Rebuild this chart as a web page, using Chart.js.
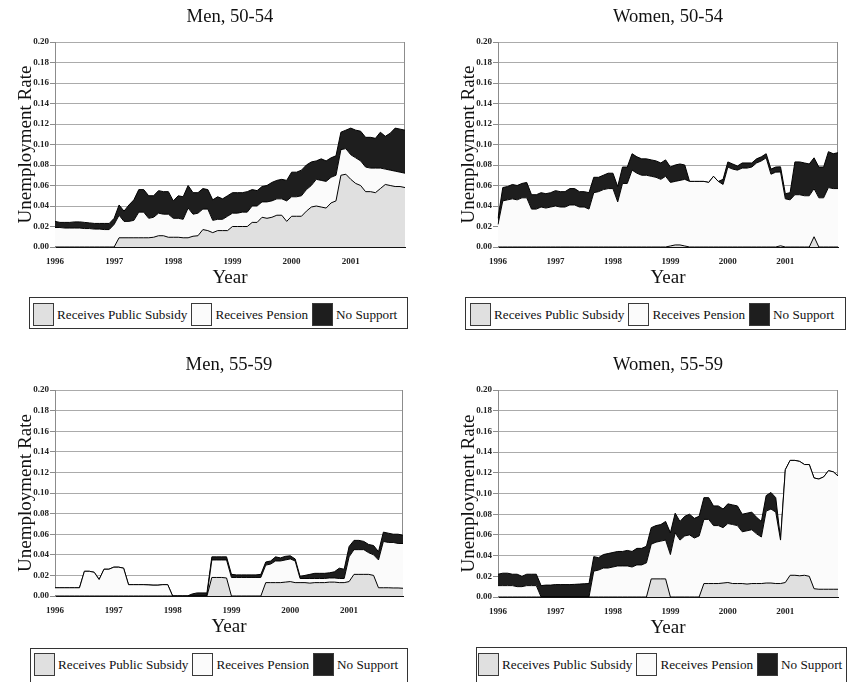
<!DOCTYPE html>
<html>
<head>
<meta charset="utf-8">
<title>Unemployment rate by source of support</title>
<script src="https://cdn.jsdelivr.net/npm/chart.js@4.4.1/dist/chart.umd.min.js"></script>
<style>
  html, body { margin: 0; padding: 0; background: #fff; }
  body { width: 847px; height: 682px; position: relative; overflow: hidden;
         font-family: "Liberation Serif", "Times New Roman", serif; }
  .panel { position: absolute; }
  .panel canvas { display: block; }
  .legend { position: absolute; box-sizing: border-box; border: 1px solid #333;
            display: flex; align-items: flex-start; color: #111;
            font-family: "Liberation Serif", "Times New Roman", serif; font-size: 13.2px;
            white-space: nowrap; background: #fff; overflow: hidden; }
  .legend .item { display: flex; align-items: center; margin-right: 4px; }
  .legend .sw { width: 21px; height: 23px; box-sizing: border-box; border: 1.5px solid #3a3a3a;
                margin-right: 3px; flex: none; }
</style>
</head>
<body>
<script>
// ---- categories and tick labels ----
const years = ['1996', '1997', '1998', '1999', '2000', '2001'];
const monthNums = ['01', '02', '03', '04', '05', '06', '07', '08', '09', '10', '11', '12'];
const months = years.flatMap(y => monthNums.map(m => y + '-' + m));

const seriesNames = ['Receives Public Subsidy', 'Receives Pension', 'No Support'];
const fillColours = ['#e0e0e0', '#fbfbfb', '#1e1e1e'];

// ---- Men, 50-54 (monthly unemployment rate, by source of support) ----
const men5054Subsidy = [
  0, 0, 0, 0, 0, 0, 0, 0, 0, 0, 0, 0,
  0, .009, .009, .009, .009, .009, .009, .009, .0095, .011, .011, .0095,
  .0095, .0095, .009, .009, .0105, .011, .017, .016, .014, .016, .016, .016,
  .020, .020, .020, .020, .024, .024, .029, .028, .029, .031, .031, .025,
  .030, .030, .030, .035, .039, .040, .039, .038, .043, .045, .070, .071,
  .066, .062, .060, .054, .054, .053, .057, .061, .060, .059, .059, .058
];
const men5054Pension = [
  .019, .019, .0185, .0185, .0185, .0185, .018, .018, .0175, .0175, .017, .017,
  .022, .022, .016, .016, .017, .025, .025, .019, .0195, .022, .021, .0225,
  .0185, .0185, .018, .029, .0215, .022, .020, .021, .012, .011, .011, .014,
  .013, .013, .014, .014, .016, .016, .015, .016, .016, .016, .016, .020,
  .019, .019, .020, .021, .021, .026, .026, .026, .025, .025, .025, .025,
  .024, .025, .024, .024, .023, .024, .020, .015, .015, .015, .014, .014
];
const men5054None = [
  .006, .005, .0055, .0055, .006, .006, .006, .0055, .0055, .0055, .006, .006,
  .006, .010, .010, .016, .020, .022, .022, .022, .021, .022, .022, .022,
  .017, .022, .022, .022, .021, .020, .020, .019, .020, .022, .020, .020,
  .020, .020, .019, .020, .016, .015, .015, .016, .018, .018, .019, .020,
  .024, .024, .025, .024, .023, .018, .021, .020, .019, .019, .017, .018,
  .026, .027, .029, .029, .030, .029, .035, .032, .036, .042, .042, .042
];

// ---- Women, 50-54 ----
const women5054Subsidy = [
  0, 0, 0, 0, 0, 0, 0, 0, 0, 0, 0, 0,
  0, 0, 0, 0, 0, 0, 0, 0, 0, 0, 0, 0,
  0, 0, 0, 0, 0, 0, 0, 0, 0, 0, 0, 0,
  .001, .002, .002, .001, 0, 0, 0, 0, 0, 0, 0, 0,
  0, 0, 0, 0, 0, 0, 0, 0, 0, 0, 0, .0012,
  0, 0, 0, 0, 0, 0, .010, 0, 0, 0, 0, 0
];
const women5054Pension = [
  .022, .045, .046, .047, .046, .048, .048, .037, .037, .039, .038, .039,
  .040, .039, .039, .041, .041, .039, .039, .037, .053, .054, .056, .057,
  .057, .044, .062, .062, .075, .072, .070, .070, .069, .068, .066, .069,
  .062, .062, .063, .065, .064, .064, .064, .064, .063, .069, .064, .061,
  .078, .076, .075, .077, .077, .078, .082, .084, .087, .071, .073, .072,
  .047, .046, .051, .051, .050, .050, .047, .048, .048, .058, .057, .057
];
const women5054None = [
  .006, .013, .013, .014, .014, .014, .015, .014, .014, .014, .014, .014,
  .015, .015, .015, .016, .016, .015, .015, .016, .015, .014, .014, .015,
  .015, .015, .016, .016, .016, .016, .016, .016, .016, .016, .016, .016,
  .015, .016, .016, .014, 0, 0, 0, 0, 0, 0, 0, .005,
  .005, .005, .004, .005, .005, .004, .004, .004, .004, .005, .005, .005,
  .005, .007, .032, .032, .032, .031, .030, .030, .030, .035, .034, .035
];

// ---- Men, 55-59 ----
const men5559Subsidy = [
  0, 0, 0, 0, 0, 0, 0, 0, 0, 0, 0, 0,
  0, 0, 0, 0, 0, 0, 0, 0, 0, 0, 0, 0,
  0, 0, 0, 0, 0, 0, 0, 0, .018, .018, .018, .0175,
  0, 0, 0, 0, 0, 0, 0, .013, .013, .013, .013, .0135,
  .014, .013, .013, .013, .0125, .013, .013, .013, .0135, .0135, .013, .013,
  .014, .021, .021, .021, .021, .020, .008, .008, .008, .0078, .0078, .0075
];
const men5559Pension = [
  .008, .008, .008, .008, .008, .008, .024, .024, .023, .016, .026, .026,
  .028, .028, .027, .011, .011, .011, .011, .0108, .0105, .0105, .011, .011,
  0, 0, 0, 0, 0, 0, 0, 0, .017, .017, .017, .0175,
  .018, .018, .018, .018, .018, .018, .018, .017, .018, .021, .021, .0215,
  .022, .021, .004, .004, .0045, .004, .004, .004, .004, .004, .004, .004,
  .024, .024, .024, .024, .021, .020, .027, .045, .044, .0442, .0432, .0435
];
const men5559None = [
  0, 0, 0, 0, 0, 0, 0, 0, 0, 0, 0, 0,
  0, 0, 0, 0, 0, 0, 0, 0, 0, 0, 0, 0,
  0, 0, 0, 0, .002, .003, .003, .003, .003, .003, .003, .003,
  .003, .0025, .0025, .0025, .0025, .0025, .003, .003, .003, .004, .003, .0035,
  .003, .002, .002, .003, .004, .005, .005, .005, .005, .006, .010, .009,
  .010, .009, .009, .008, .008, .009, .008, .009, .009, .008, .009, .008
];

// ---- Women, 55-59 ----
const women5559Subsidy = [
  0, 0, 0, 0, 0, 0, 0, 0, 0, 0, 0, 0,
  0, 0, 0, 0, 0, 0, 0, 0, 0, 0, 0, 0,
  0, 0, 0, 0, 0, 0, 0, 0, .0175, .0175, .0175, .0175,
  0, 0, 0, 0, 0, 0, 0, .013, .013, .013, .013, .0135,
  .014, .013, .013, .013, .0125, .013, .013, .013, .0135, .0135, .013, .013,
  .014, .021, .021, .0205, .021, .020, .008, .0075, .0075, .0075, .0075, .0075
];
const women5559Pension = [
  .011, .011, .011, .011, .010, .010, .011, .011, .011, 0, 0, 0,
  0, 0, 0, 0, 0, 0, 0, 0, .025, .026, .028, .028,
  .029, .030, .030, .030, .029, .031, .031, .033, .0335, .0355, .0365, .0375,
  .041, .062, .055, .059, .060, .057, .059, .062, .062, .056, .056, .0535,
  .057, .057, .056, .050, .0515, .052, .048, .045, .0695, .0715, .069, .042,
  .109, .111, .111, .1105, .107, .108, .107, .1065, .1085, .1145, .1135, .1095
];
const women5559None = [
  .011, .012, .012, .011, .012, .010, .011, .011, .011, .011, .0115, .0115,
  .012, .012, .012, .012, .0122, .0125, .0128, .013, .014, .012, .013, .014,
  .014, .014, .014, .015, .015, .016, .016, .016, .016, .016, .016, .018,
  .021, .019, .018, .019, .020, .019, .019, .021, .021, .019, .019, .018,
  .019, .019, .019, .017, .017, .017, .016, .015, .015, .016, .014, .001,
  0, 0, 0, 0, 0, 0, 0, 0, 0, 0, 0, 0
];

// ---- drawing ----
const SERIF = '"Liberation Serif", "Times New Roman", serif';

// grey line closing the plot frame on the right
const rightFrame = {
  id: 'rightFrame',
  beforeDatasetsDraw(chart) {
    const { ctx, chartArea: a } = chart;
    const x = Math.round(a.right) - 0.5;
    ctx.save();
    ctx.strokeStyle = '#8c8c8c';
    ctx.lineWidth = 1;
    ctx.beginPath();
    ctx.moveTo(x, a.top);
    ctx.lineTo(x, a.bottom);
    ctx.stroke();
    ctx.restore();
  }
};

function drawPanel(p) {
  const wrap = document.createElement('div');
  wrap.className = 'panel';
  wrap.style.left = p.left + 'px';
  wrap.style.top = p.top + 'px';
  const canvas = document.createElement('canvas');
  canvas.width = p.width;
  canvas.height = p.height;
  canvas.style.width = p.width + 'px';
  canvas.style.height = p.height + 'px';
  wrap.appendChild(canvas);
  document.body.appendChild(wrap);

  const series = [p.subsidy, p.pension, p.none];
  const datasets = series.map((values, i) => ({
    label: seriesNames[i],
    data: values,
    backgroundColor: fillColours[i],
    borderColor: '#000',
    borderWidth: 1,
    pointRadius: 0,
    tension: 0,
    fill: i === 0 ? 'origin' : '-1'
  }));

  const tickFont = { family: SERIF, size: 9, weight: 'bold' };

  new Chart(canvas, {
    type: 'line',
    data: { labels: months, datasets },
    plugins: [rightFrame],
    options: {
      responsive: false,
      animation: false,
      events: [],
      devicePixelRatio: 1,
      layout: { padding: { left: 0, right: p.padRight, top: 0, bottom: 0 } },
      plugins: {
        legend: { display: false },
        tooltip: { enabled: false },
        title: {
          display: true,
          text: p.title,
          fullSize: false,
          color: '#111',
          font: { family: SERIF, size: 18.6, weight: 'normal', lineHeight: 1.2 },
          padding: { top: 6.2, bottom: 13.5 }
        }
      },
      scales: {
        x: {
          type: 'category',
          offset: false,
          grid: { display: false, drawTicks: false },
          border: { display: true, color: '#111', width: 1 },
          ticks: {
            autoSkip: false,
            maxRotation: 0,
            minRotation: 0,
            padding: 9,
            color: '#222',
            font: tickFont,
            callback: (v, i) => (i % 12 === 0 ? years[i / 12] : '')
          },
          title: {
            display: true,
            text: 'Year',
            color: '#111',
            font: { family: SERIF, size: 19, weight: 'normal', lineHeight: 1.2 },
            padding: { top: 0, bottom: 3 }
          },
          afterFit: s => { s.height = p.xAxisHeight; }
        },
        y: {
          stacked: true,
          min: 0,
          max: 0.2,
          grid: { color: '#ababab', lineWidth: 1, drawTicks: true, tickLength: 5, tickColor: '#8c8c8c' },
          border: { display: true, color: '#8c8c8c', width: 1 },
          ticks: {
            stepSize: 0.02,
            padding: 1,
            color: '#222',
            font: tickFont,
            callback: v => Number(v).toFixed(2)
          },
          title: {
            display: true,
            text: 'Unemployment Rate',
            color: '#111',
            font: { family: SERIF, size: 19, weight: 'normal', lineHeight: 1.2 },
            padding: { top: 14.5, bottom: 0 }
          },
          afterFit: s => { s.width = 55; }
        }
      }
    }
  });

  // legend box under the panel
  const lg = p.legend;
  const el = document.createElement('div');
  el.className = 'legend';
  Object.assign(el.style, {
    left: lg.left + 'px', top: lg.top + 'px',
    width: lg.width + 'px', height: lg.height + 'px',
    paddingTop: lg.padTop + 'px', paddingLeft: lg.padLeft + 'px'
  });
  seriesNames.forEach((name, i) => {
    const item = document.createElement('div');
    item.className = 'item';
    const sw = document.createElement('span');
    sw.className = 'sw';
    sw.style.background = fillColours[i];
    const lb = document.createElement('span');
    lb.textContent = name;
    item.append(sw, lb);
    el.appendChild(item);
  });
  document.body.appendChild(el);
}

drawPanel({
  title: 'Men, 50-54', subsidy: men5054Subsidy, pension: men5054Pension, none: men5054None,
  left: 0, top: 0, width: 415, height: 292, padRight: 10, xAxisHeight: 45,
  legend: { left: 29, top: 297, width: 379, height: 32, padTop: 5, padLeft: 3 }
});
drawPanel({
  title: 'Women, 50-54', subsidy: women5054Subsidy, pension: women5054Pension, none: women5054None,
  left: 443, top: 0, width: 404, height: 292, padRight: 1, xAxisHeight: 45,
  legend: { left: 465, top: 297, width: 381, height: 33, padTop: 5, padLeft: 4 }
});
drawPanel({
  title: 'Men, 55-59', subsidy: men5559Subsidy, pension: men5559Pension, none: men5559None,
  left: 0, top: 348, width: 413, height: 293, padRight: 10, xAxisHeight: 45,
  legend: { left: 30, top: 648, width: 378, height: 40, padTop: 4, padLeft: 3 }
});
drawPanel({
  title: 'Women, 55-59', subsidy: women5559Subsidy, pension: women5559Pension, none: women5559None,
  left: 443, top: 348, width: 404, height: 294, padRight: 1, xAxisHeight: 45,
  legend: { left: 476, top: 647, width: 371, height: 40, padTop: 5, padLeft: 1 }
});
</script>
</body>
</html>
